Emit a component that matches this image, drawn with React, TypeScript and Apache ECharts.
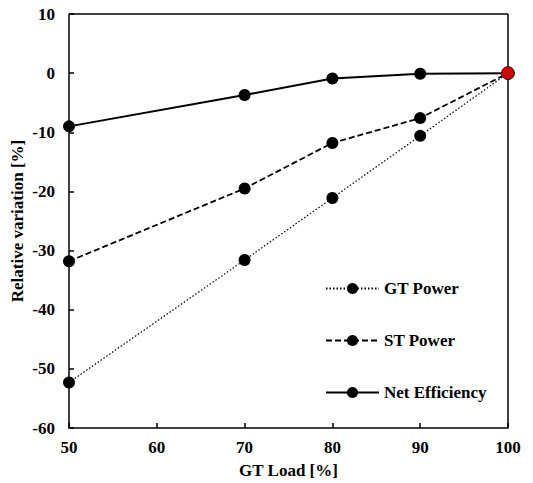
import React, { useEffect, useRef } from "react";
import * as echarts from "echarts";

const loads = [50, 70, 80, 90, 100];
const gtPower = [-52.3, -31.6, -21.1, -10.6, 0];
const stPower = [-31.8, -19.5, -11.8, -7.6, 0];
const netEfficiency = [-9.0, -3.7, -0.9, -0.1, 0];
const refPoint = [100, 0];

const FONT = "Liberation Serif";
const FS = 17;

export default function App() {
  const ref = useRef<HTMLDivElement>(null);
  useEffect(() => {
    if (!ref.current) return;
    const chart = echarts.init(ref.current, undefined, { renderer: "svg" });
    const pairs = (vals: number[]) => loads.map((x, i) => [x, vals[i]]);
    const marker = { color: "#000" };
    const txt = { fontFamily: FONT, fontWeight: "bold", fontSize: FS, color: "#000" };
    chart.setOption({
      animation: false,
      textStyle: { fontFamily: FONT },
      grid: { left: 69, right: 25, top: 14, bottom: 55, containLabel: false, outerBoundsMode: "none" },
      legend: {
        data: ["GT Power", "ST Power", "Net Efficiency"],
        orient: "vertical",
        left: 320,
        top: 275,
        itemWidth: 53,
        itemHeight: 14,
        itemGap: 35,
        textStyle: txt,
      },
      xAxis: {
        type: "value",
        min: 50,
        max: 100,
        interval: 10,
        name: "GT Load [%]",
        nameLocation: "middle",
        nameGap: 34,
        nameMoveOverlap: false,
        nameTextStyle: txt,
        axisLine: { show: true, onZero: false, lineStyle: { color: "#000", width: 1.5 } },
        axisTick: { show: true, inside: true, length: 5, lineStyle: { color: "#000", width: 1.5 } },
        axisLabel: { ...txt, margin: 11 },
        splitLine: { show: false },
      },
      yAxis: {
        type: "value",
        min: -60,
        max: 10,
        interval: 10,
        name: "Relative variation [%]",
        nameLocation: "middle",
        nameGap: 43,
        nameMoveOverlap: false,
        nameTextStyle: txt,
        axisLine: { show: true, onZero: false, lineStyle: { color: "#000", width: 1.5 } },
        axisTick: { show: true, inside: true, length: 5, lineStyle: { color: "#000", width: 1.5 } },
        axisLabel: { ...txt, margin: 14 },
        splitLine: { show: false },
      },
      graphic: [
        {
          type: "line",
          shape: { x1: 69, y1: 14, x2: 508, y2: 14 },
          style: { stroke: "#000", lineWidth: 1.5 },
        },
        {
          type: "line",
          shape: { x1: 508, y1: 14, x2: 508, y2: 428 },
          style: { stroke: "#000", lineWidth: 1.5 },
        },
      ],
      series: [
        {
          name: "GT Power",
          type: "line",
          data: pairs(gtPower),
          symbol: "circle",
          symbolSize: 12,
          itemStyle: marker,
          lineStyle: { color: "#000", width: 1.2, type: [1.5, 2] },
        },
        {
          name: "ST Power",
          type: "line",
          data: pairs(stPower),
          symbol: "circle",
          symbolSize: 12,
          itemStyle: marker,
          lineStyle: { color: "#000", width: 1.8, type: [6, 3] },
        },
        {
          name: "Net Efficiency",
          type: "line",
          data: pairs(netEfficiency),
          symbol: "circle",
          symbolSize: 12,
          itemStyle: marker,
          lineStyle: { color: "#000", width: 2 },
        },
        {
          name: "ref",
          type: "scatter",
          data: [refPoint],
          symbol: "circle",
          symbolSize: 13,
          z: 5,
          itemStyle: { color: "#ff0000", borderColor: "#000", borderWidth: 1 },
        },
      ],
    });
    return () => chart.dispose();
  }, []);
  return (
    <div
      ref={ref}
      style={{ position: "absolute", left: 0, top: 0, width: 533, height: 483 }}
    />
  );
}
